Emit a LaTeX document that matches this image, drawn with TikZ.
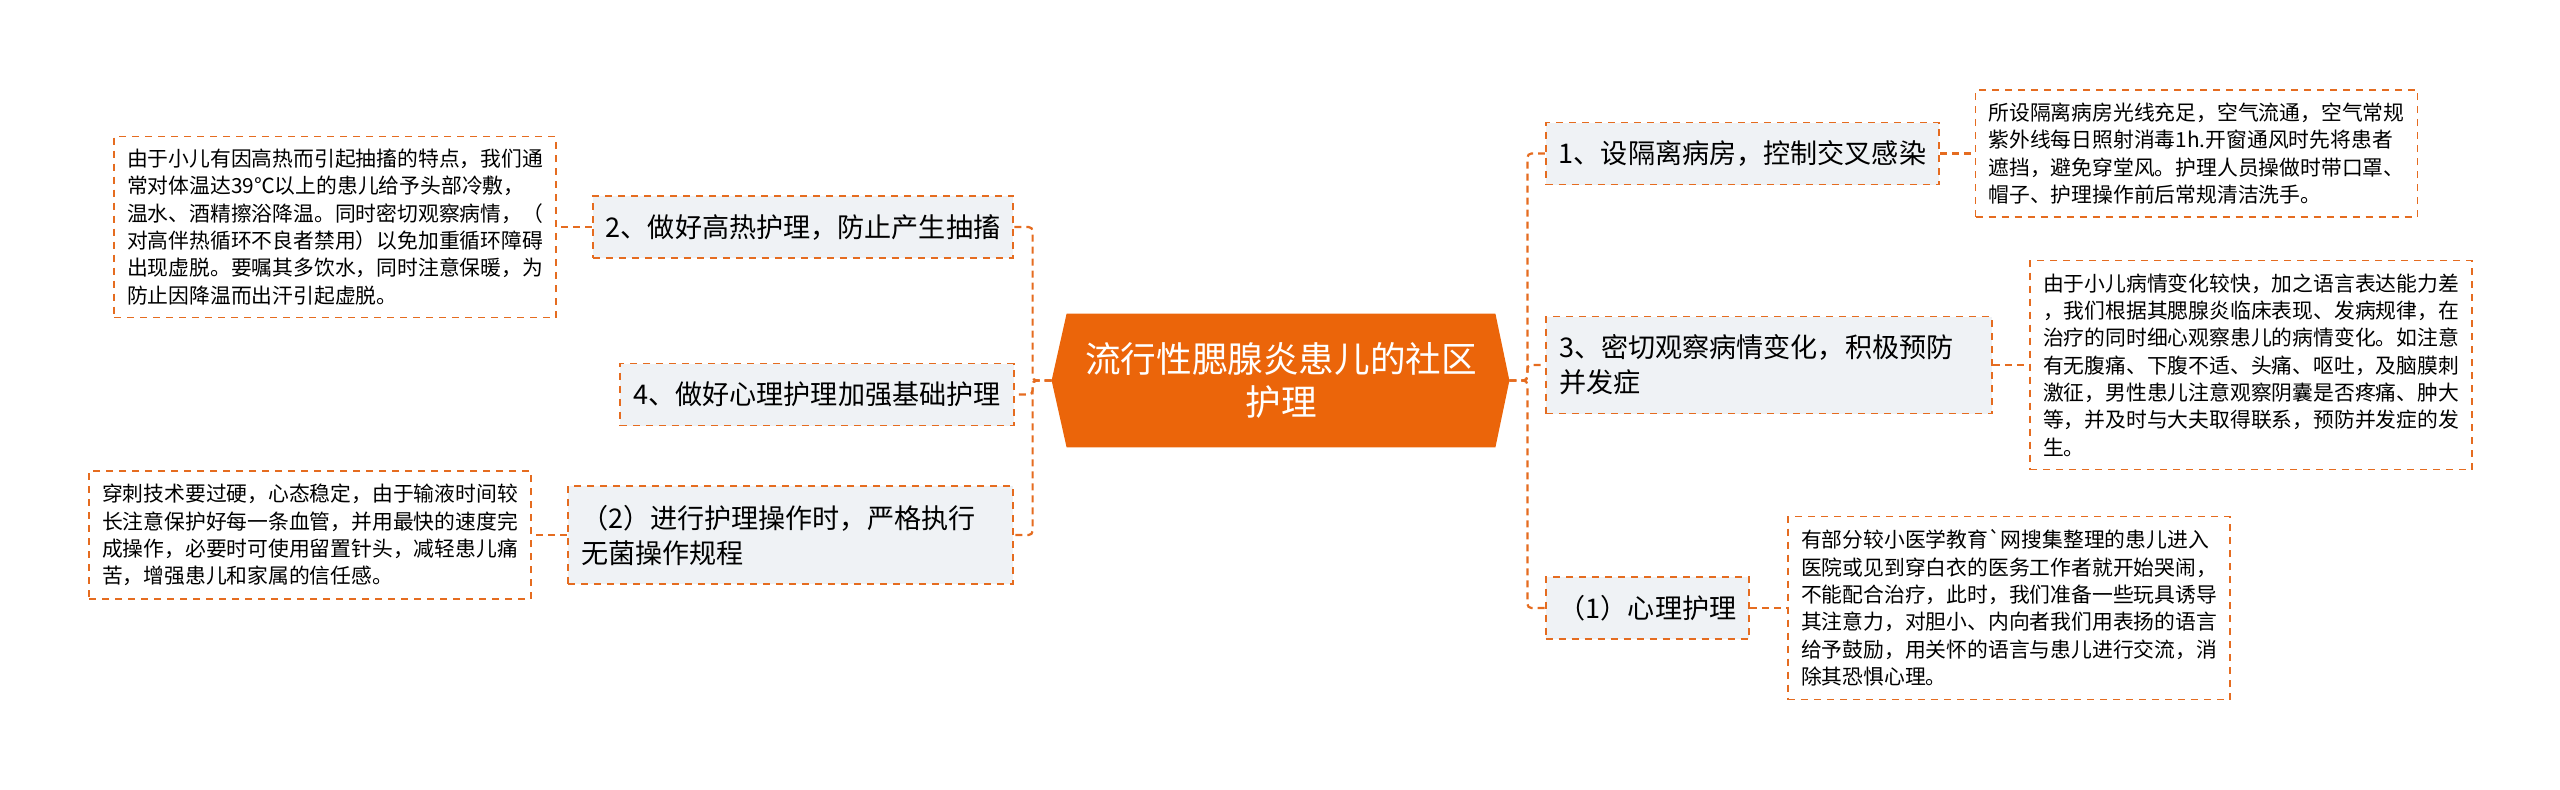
\documentclass[tikz,border=0pt]{standalone}
\usepackage{fontspec}
\setmainfont{Noto Sans CJK SC}[Ligatures=TeXOff]
\usetikzlibrary{positioning, backgrounds}

\definecolor{linkorange}{RGB}{229,108,32}
\definecolor{rootorange}{RGB}{235,101,10}
\definecolor{topicgrey}{RGB}{239,242,245}

\begin{document}
\begin{tikzpicture}[x=0.5pt,y=0.5pt,yscale=-1,xscale=1,
    link/.style={draw=linkorange, line width=1.1pt, dash pattern=on 3.5pt off 2.5pt, rounded corners=2pt},
    topic/.style={draw=linkorange, fill=topicgrey, line width=0.9pt, dash pattern=on 3.5pt off 3pt,
        inner xsep=6.5pt, minimum height=31pt, align=left, font=\fontsize{13.55pt}{17.5pt}\selectfont},
    leaf/.style={draw=linkorange, fill=white, line width=0.9pt, dash pattern=on 3.5pt off 3pt,
        inner xsep=6.5pt, text width=208pt, align=left, font=\fontsize{10.4pt}{13.65pt}\selectfont},
    rootbox/.style={minimum width=214pt, minimum height=66.5pt, inner sep=0pt, text=white,
        align=center, font=\fontsize{17.8pt}{21.5pt}\selectfont}]
    %set diagram size
    \useasboundingbox (0,0) rectangle (2560,789);

    % Root Node
    \node [rootbox] (root) at (1281,380.5) {流行性腮腺炎患儿的社区\\护理};
    \begin{scope}[on background layer]
        %Shape: Hexagon
        \fill [rootorange] (root.north west) -- (root.north east) -- ([xshift=7pt]root.east) -- (root.south east)
            -- (root.south west) -- ([xshift=-7.5pt]root.west) -- cycle;
    \end{scope}
    \coordinate (rootL) at ([xshift=-7.5pt]root.west);
    \coordinate (rootR) at ([xshift=7pt]root.east);

    % Left Topics
    \node [topic] (heat) at (803,227) {2、做好高热护理，防止产生抽搐};
    \node [topic] (mind) at (817,394.5) {4、做好心理护理加强基础护理};
    \node [topic, text width=209.5pt, minimum height=49pt] (sterile) at (790.5,535) {（2）进行护理操作时，严格执行\\无菌操作规程};

    % Right Topics
    \node [topic] (ward) at (1742.5,153.5) {1、设隔离病房，控制交叉感染};
    \node [topic, text width=210pt, minimum height=48.5pt] (watch) at (1769,365) {3、密切观察病情变化，积极预防\\并发症};
    \node [topic] (psych) at (1647.5,608) {（1）心理护理};

    % Leaf Nodes
    \node [leaf, minimum height=90.5pt] (heatnote) at (335,227) {由于小儿有因高热而引起抽搐的特点，我们通\\常对体温达39℃以上的患儿给予头部冷敷，\\温水、酒精擦浴降温。同时密切观察病情，（\\对高伴热循环不良者禁用）以免加重循环障碍\\出现虚脱。要嘱其多饮水，同时注意保暖，为\\防止因降温而出汗引起虚脱。};
    \node [leaf, minimum height=64pt] (sterilenote) at (310,535) {穿刺技术要过硬，心态稳定，由于输液时间较\\长注意保护好每一条血管，并用最快的速度完\\成操作，必要时可使用留置针头，减轻患儿痛\\苦，增强患儿和家属的信任感。};
    \node [leaf, minimum height=63.5pt] (wardnote) at (2196.5,153.5) {所设隔离病房光线充足，空气流通，空气常规\\紫外线每日照射消毒1h.开窗通风时先将患者\\遮挡，避免穿堂风。护理人员操做时带口罩、\\帽子、护理操作前后常规清洁洗手。};
    \node [leaf, minimum height=104.5pt] (watchnote) at (2251,365) {由于小儿病情变化较快，加之语言表达能力差\\，我们根据其腮腺炎临床表现、发病规律，在\\治疗的同时细心观察患儿的病情变化。如注意\\有无腹痛、下腹不适、头痛、呕吐，及脑膜刺\\激征，男性患儿注意观察阴囊是否疼痛、肿大\\等，并及时与大夫取得联系，预防并发症的发\\生。};
    \node [leaf, minimum height=91.5pt] (psychnote) at (2009,608) {有部分较小医学教育`网搜集整理的患儿进入\\医院或见到穿白衣的医务工作者就开始哭闹，\\不能配合治疗，此时，我们准备一些玩具诱导\\其注意力，对胆小、内向者我们用表扬的语言\\给予鼓励，用关怀的语言与患儿进行交流，消\\除其恐惧心理。};

    %Straight Lines
    \draw [link] (rootL) -- ++(-19,0) |- (heat.east);
    \draw [link] (rootL) -- ++(-19,0) |- (mind.east);
    \draw [link] (rootL) -- ++(-19,0) |- (sterile.east);
    \draw [link] (rootR) -- ++(18,0) |- (ward.west);
    \draw [link] (rootR) -- ++(18,0) |- (watch.west);
    \draw [link] (rootR) -- ++(18,0) |- (psych.west);

    \draw [link] (heat.west) -- (heatnote.east);
    \draw [link] (sterile.west) -- (sterilenote.east);
    \draw [link] (ward.east) -- (wardnote.west);
    \draw [link] (watch.east) -- (watchnote.west);
    \draw [link] (psych.east) -- (psychnote.west);

\end{tikzpicture}
\end{document}
